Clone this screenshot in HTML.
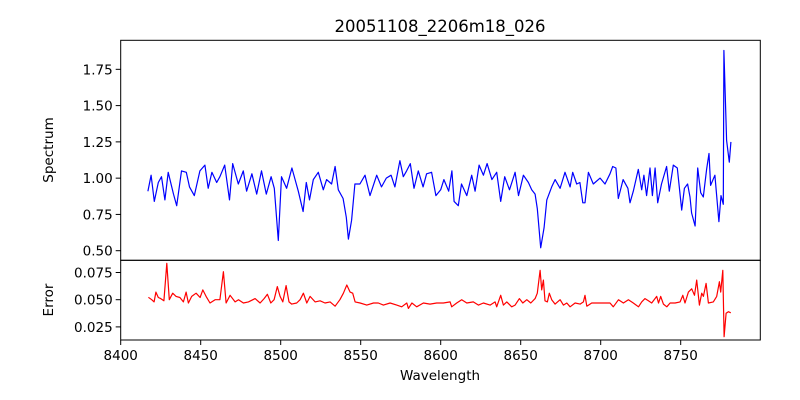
<!DOCTYPE html>
<html><head><meta charset="utf-8"><style>
html,body{margin:0;padding:0;background:#fff;}
svg{display:block;font-family:"DejaVu Sans","Liberation Sans",sans-serif;}
</style></head><body>
<svg id="chart" width="800" height="400" viewBox="0 0 800 400">
<rect width="800" height="400" fill="#fff"/>
<text x="440" y="32" font-size="16.5" text-anchor="middle" fill="#000">20051108_2206m18_026</text>
<g id="top"></g>
<g id="bot"></g>
<text x="440" y="380" font-size="13.5" text-anchor="middle">Wavelength</text>
<text transform="translate(53,150) rotate(-90)" font-size="13.5" text-anchor="middle">Spectrum</text>
<text transform="translate(53,300) rotate(-90)" font-size="13.5" text-anchor="middle">Error</text>
</svg>
<script>
const specWave=[8417,8419,8421,8423.5,8425.5,8427.6,8429.7,8433,8435,8438,8441,8443,8446,8449.5,8452.6,8454.7,8457,8460,8462,8465,8468,8470,8473.5,8476.6,8478.7,8482,8485,8488,8491,8494,8496,8498.5,8500.5,8503.7,8507,8509,8511,8514,8516,8518,8520.4,8523.5,8526.6,8528.7,8531.8,8534,8536,8539,8541,8542.3,8544.3,8546.4,8549.5,8552.7,8555.8,8560,8563,8566,8569,8571.4,8574.5,8576.6,8578.7,8581,8583.3,8586,8589,8591.2,8594.3,8597,8600,8602,8605,8607,8608.4,8611,8613,8616.3,8619.4,8621.5,8624,8626.7,8629,8632,8635,8637.5,8640,8643,8646.5,8648.6,8651.7,8654.8,8656.9,8659,8660.4,8662.5,8664.6,8666.3,8669.4,8671.5,8674.6,8677.7,8680.9,8682.5,8685,8687,8688.8,8690.2,8692.3,8695.4,8699.6,8702.7,8705.8,8707.5,8709.5,8711,8714,8717,8718.3,8720.4,8723.5,8725.6,8727,8728.7,8730.8,8732.3,8734,8735.6,8738,8741.2,8742.9,8745.4,8747.9,8750.6,8752.3,8754.3,8755.8,8756.8,8759,8760.6,8762.5,8764.1,8766.2,8767.7,8768.7,8771.4,8773.9,8775.2,8776.6,8777,8778.7,8780.4,8781.4];
const specFlux=[0.91,1.02,0.84,0.97,1.01,0.85,1.04,0.89,0.81,1.05,1.04,0.94,0.88,1.05,1.09,0.93,1.04,0.97,1.01,1.09,0.85,1.1,0.96,1.05,0.91,1.03,0.89,1.05,0.89,1.01,0.93,0.57,1.01,0.93,1.07,0.99,0.91,0.77,0.97,0.85,0.99,1.04,0.92,0.99,0.96,1.08,0.92,0.86,0.73,0.58,0.71,0.96,0.96,1.02,0.88,1.02,0.94,1.0,1.02,0.94,1.12,1.01,1.05,1.1,0.93,1.05,0.94,1.03,1.04,0.88,0.92,0.99,0.91,1.05,0.84,0.81,0.96,0.88,1.02,0.91,1.09,1.02,1.1,0.99,1.04,0.84,1.01,0.92,1.04,0.88,1.02,0.97,0.92,0.89,0.79,0.52,0.66,0.85,0.94,0.99,0.93,1.04,0.94,1.04,0.96,0.97,0.83,0.83,1.04,0.96,1.0,0.96,1.03,1.08,1.07,0.86,0.99,0.93,0.83,0.91,1.06,0.92,1.02,0.88,1.07,0.88,1.07,0.83,0.96,1.08,0.91,1.09,1.07,0.78,0.93,0.96,0.87,0.76,0.67,1.07,0.9,0.87,1.06,1.17,0.95,1.02,0.7,0.88,0.82,1.88,1.26,1.11,1.25];
const errWave=[8417.3,8419.4,8420.9,8422,8423.5,8425,8427,8428.8,8430.4,8432.5,8434.6,8437,8439.2,8440.9,8442.3,8444.4,8447.1,8449.6,8451.3,8453.4,8455.8,8459,8462,8464.2,8465.9,8468.4,8471.5,8473.6,8476.7,8479.8,8484,8487.1,8489.6,8491.7,8493.8,8495.9,8497.9,8499.6,8501.3,8503.4,8505.2,8506.9,8510,8512.1,8514.2,8516.3,8518.4,8521.5,8524.6,8527.7,8530.9,8534,8537,8539.2,8541.3,8543.4,8545,8546.5,8549.6,8553.8,8558,8561,8564.2,8568.4,8572.5,8575.6,8578.8,8579.8,8582,8585,8589.2,8593.3,8597.5,8601.7,8605.9,8606.9,8610,8613.1,8616.3,8620.4,8623.6,8626.7,8630.9,8634,8635,8637.5,8639.2,8641.3,8644.4,8646.5,8649.2,8651.3,8653.8,8656.3,8659,8660.4,8662.1,8663.1,8664.2,8665.2,8666.7,8667.9,8669.4,8671.5,8674.6,8676.7,8678.8,8680.9,8684,8687.1,8689.2,8690.2,8691.3,8694.4,8698.6,8702.7,8705.8,8707.9,8711.1,8714.2,8717.3,8720.4,8723.6,8725.6,8727.7,8729.8,8731.9,8735,8736.1,8737.5,8739.2,8741.3,8743.4,8746.5,8749.6,8751.3,8752.7,8754.8,8756.9,8758.6,8760,8761.7,8763.1,8764.2,8765.9,8767.3,8770.4,8772.5,8774.2,8775,8776.3,8777.1,8778.4,8779.8,8781.3];
const errVals=[0.0522,0.050,0.048,0.057,0.052,0.051,0.049,0.0834,0.050,0.056,0.053,0.052,0.048,0.057,0.047,0.053,0.056,0.052,0.059,0.053,0.047,0.050,0.050,0.0757,0.047,0.054,0.048,0.050,0.047,0.048,0.051,0.047,0.051,0.055,0.047,0.050,0.062,0.053,0.048,0.063,0.048,0.046,0.047,0.050,0.056,0.047,0.053,0.048,0.049,0.047,0.048,0.044,0.050,0.056,0.0635,0.057,0.056,0.048,0.047,0.045,0.047,0.047,0.045,0.047,0.045,0.0435,0.047,0.042,0.047,0.0435,0.047,0.046,0.047,0.047,0.048,0.0435,0.047,0.050,0.047,0.048,0.045,0.047,0.045,0.048,0.0435,0.054,0.045,0.048,0.0435,0.045,0.051,0.047,0.050,0.047,0.051,0.056,0.077,0.059,0.068,0.049,0.048,0.056,0.050,0.046,0.050,0.045,0.047,0.0435,0.047,0.046,0.048,0.054,0.044,0.047,0.047,0.047,0.047,0.0435,0.050,0.047,0.050,0.047,0.0435,0.048,0.051,0.049,0.047,0.053,0.047,0.053,0.046,0.0435,0.047,0.047,0.048,0.054,0.047,0.057,0.060,0.054,0.068,0.045,0.056,0.053,0.065,0.047,0.048,0.053,0.0665,0.057,0.077,0.016,0.0375,0.039,0.038];
const xTicks=[8400,8450,8500,8550,8600,8650,8700,8750];
const specTicks=[0.50,0.75,1.00,1.25,1.50,1.75];
const errTicks=[0.025,0.050,0.075];

const NS='http://www.w3.org/2000/svg';
const L=120.7,R=760.3;
const xs=w=>L+(w-8400)*1.6;
const ysTop=v=>250.7-(v-0.5)*145.1;
const ysBot=v=>299.7-(v-0.05)*1088;
function mk(tag,attrs,parent){const e=document.createElementNS(NS,tag);for(const k in attrs)e.setAttribute(k,attrs[k]);parent.appendChild(e);return e;}

function panel(g,top,bottom,yTicks,ys,fmt,wave,vals,color,showX){
  const frame=mk('rect',{x:L,y:top,width:R-L,height:bottom-top,fill:'none',stroke:'#000','stroke-width':1},g);
  
  
  yTicks.forEach(t=>{
    const y=ys(t);
    const tk=mk('line',{x1:L-5,x2:L,y1:y,y2:y,stroke:'#000','stroke-width':1},g);
    
    
    const tx=mk('text',{x:L-8,y:y+5,'font-size':13.5,'text-anchor':'end'},g);
    tx.textContent=fmt(t);
    
    
  });
  const d=wave.map((w,i)=>(i?'L':'M')+xs(w).toFixed(1)+' '+ys(vals[i]).toFixed(1)).join(' ');
  const p=mk('path',{d:d,fill:'none',stroke:color,'stroke-width':1.2,'stroke-linejoin':'round'},g);
  
  
  if(showX){
    xTicks.forEach(t=>{
      const x=xs(t);
      const tk=mk('line',{x1:x,x2:x,y1:bottom,y2:bottom+5,stroke:'#000','stroke-width':1},g);
      
      
      const tx=mk('text',{x:x,y:bottom+20,'font-size':13.5,'text-anchor':'middle'},g);
      tx.textContent=String(t);
      
      
    });
  }
}
panel(document.getElementById('top'),40.3,260.3,specTicks,ysTop,t=>t.toFixed(2),specWave,specFlux,'#0000ff',false);
panel(document.getElementById('bot'),260.3,340,errTicks,ysBot,t=>t.toFixed(3),errWave,errVals,'#ff0000',true);
</script>
</body></html>
